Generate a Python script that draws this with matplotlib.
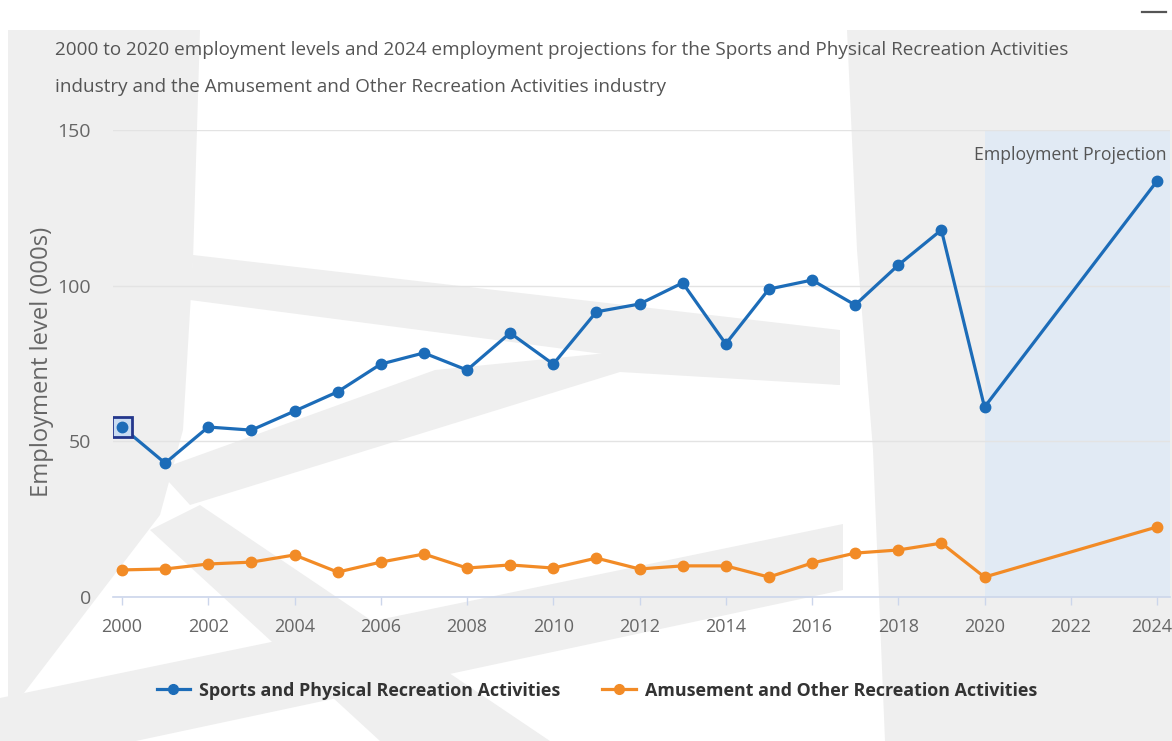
import matplotlib
matplotlib.use("Agg")
import matplotlib.pyplot as plt
import matplotlib.transforms as mtransforms
from matplotlib import font_manager
from matplotlib.patches import Polygon
from matplotlib.lines import Line2D

# ---- data -------------------------------------------------------------
years = [2000, 2001, 2002, 2003, 2004, 2005, 2006, 2007, 2008, 2009, 2010,
         2011, 2012, 2013, 2014, 2015, 2016, 2017, 2018, 2019, 2020, 2024]
sports = [54.6, 43.0, 54.6, 53.6, 59.7, 65.9, 74.8, 78.4, 72.9, 84.8, 74.8,
          91.6, 94.1, 100.9, 81.3, 98.9, 101.8, 93.8, 106.6, 117.9, 61.0, 133.6]
amusement = [8.7, 9.0, 10.6, 11.2, 13.5, 8.0, 11.2, 13.8, 9.3, 10.3, 9.3,
             12.5, 9.0, 10.0, 10.0, 6.4, 10.9, 14.1, 15.1, 17.3, 6.4, 22.5]
series_names = ["Sports and Physical Recreation Activities",
                "Amusement and Other Recreation Activities"]
x_ticks = list(range(2000, 2025, 2))
y_ticks = [0, 50, 100, 150]
projection_start = 2020
title_lines = [
    "2000 to 2020 employment levels and 2024 employment projections for the "
    "Sports and Physical Recreation Activities",
    "industry and the Amusement and Other Recreation Activities industry",
]
y_label = "Employment level (000s)"
band_label = "Employment Projection"

BLUE = "#1c6cb8"
ORANGE = "#f28b26"
GREY_TXT = "#666666"


def pick(families):
    for fam in families:
        try:
            font_manager.findfont(font_manager.FontProperties(family=fam),
                                  fallback_to_default=False)
            return fam
        except Exception:
            continue
    return "DejaVu Sans"


NARROW = pick(["Liberation Sans Narrow", "Open Sans"])
WIDE = pick(["Open Sans", "DejaVu Sans"])

W, H = 1172, 741
fig = plt.figure(figsize=(W / 100, H / 100), dpi=100)
fig.patch.set_facecolor("white")


def fx(px):
    return px / W


def fy(py):
    return 1 - py / H


# ---- faint backdrop shapes --------------------------------------------
shapes = [
    [(8, 30), (200, 30), (193, 260), (183, 430), (160, 515), (24, 693), (8, 700)],
    [(193, 255), (840, 330), (840, 385), (190, 300)],
    [(158, 470), (435, 370), (840, 330), (840, 385), (620, 372), (190, 505)],
    [(150, 530), (200, 505), (550, 741), (380, 741)],
    [(0, 698), (843, 524), (843, 590), (0, 770)],
    [(847, 30), (1172, 30), (1172, 741), (885, 741), (873, 450), (857, 250)],
]
for poly in shapes:
    fig.add_artist(Polygon([(fx(a), fy(b)) for a, b in poly], closed=True,
                           transform=fig.transFigure, facecolor="#efefef",
                           edgecolor="none", zorder=-10))

# small menu glyph at the top right
fig.add_artist(Line2D([fx(1142), fx(1166)], [fy(12), fy(12)],
                      transform=fig.transFigure, color="#555555", lw=1.6))

# ---- axes -------------------------------------------------------------
ax_left, ax_right, ax_top, ax_bottom = 113, 1170, 130, 597
ax = fig.add_axes([fx(ax_left), fy(ax_bottom), fx(ax_right - ax_left),
                   (ax_bottom - ax_top) / H])
ax.set_facecolor("none")

px_per_year = (1157 - 122) / 24.0
x_min = 2000 - (122 - ax_left) / px_per_year
x_max = 2000 + (ax_right - 122) / px_per_year
ax.set_xlim(x_min, x_max)
ax.set_ylim(0, 150)

ax.axvspan(projection_start, x_max, color="#dde9f6", alpha=0.75, lw=0, zorder=0)

for s in ["top", "right", "left"]:
    ax.spines[s].set_visible(False)
ax.spines["bottom"].set_color("#ccd6eb")
ax.spines["bottom"].set_linewidth(1.2)

ax.set_yticks(y_ticks)
ax.set_xticks(x_ticks)
ax.grid(axis="y", color="#e3e3e3", lw=1.0, zorder=0)
ax.tick_params(axis="y", length=0, pad=16, labelcolor=GREY_TXT, labelsize=14)
ax.tick_params(axis="x", length=6, width=1, color="#ccd6eb", pad=9,
               labelcolor=GREY_TXT, labelsize=13)
for lab in ax.get_xticklabels() + ax.get_yticklabels():
    lab.set_fontfamily(NARROW)
# keep the last year label inside the canvas
last = ax.get_xticklabels()[-1]
last.set_transform(last.get_transform() +
                   mtransforms.ScaledTranslation(-5 / 100, 0, fig.dpi_scale_trans))

ax.plot(years, sports, color=BLUE, lw=2.3, marker="o", ms=7.5,
        label=series_names[0], zorder=4, solid_joinstyle="round")
ax.plot(years, amusement, color=ORANGE, lw=2.3, marker="o", ms=7.5,
        label=series_names[1], zorder=4, solid_joinstyle="round")

# hovered point on the first sports value
ax.plot([years[0]], [sports[0]], marker="s", ms=15, mfc="#c9dcf2",
        mec="#24378c", mew=2.0, zorder=5, linestyle="none")
ax.plot([years[0]], [sports[0]], marker="o", ms=7.5, color=BLUE, zorder=6,
        linestyle="none")

band_txt = ax.text(x_max - 0.08, 150 - (155 - ax_top) / ((ax_bottom - ax_top) / 150),
                   band_label, ha="right", va="center", color="#555555",
                   fontsize=15, family=NARROW, zorder=6)

ylab = fig.text(fx(42), fy(362), y_label, rotation=90, ha="center",
                va="center", color=GREY_TXT, fontsize=14, family=WIDE)

# ---- title ------------------------------------------------------------
t1 = fig.text(fx(55), fy(50), title_lines[0], ha="left", va="center",
              color="#555555", fontsize=15, family=NARROW)
t2 = fig.text(fx(55), fy(87), title_lines[1], ha="left", va="center",
              color="#555555", fontsize=15, family=NARROW)

# ---- legend -----------------------------------------------------------
leg = fig.legend(loc="center", bbox_to_anchor=(fx(597), fy(691)), ncol=2,
                 frameon=False, handlelength=1.6, handletextpad=0.45,
                 columnspacing=2.0,
                 prop=font_manager.FontProperties(family=NARROW, weight="bold",
                                                  size=15))
for txt in leg.get_texts():
    txt.set_color("#333333")
for h in leg.legend_handles:
    h.set_markersize(7)

# ---- size text to its measured width ----------------------------------
renderer = fig.canvas.get_renderer()


def fit_width(text, target, vertical=False):
    for _ in range(2):
        bb = text.get_window_extent(renderer)
        cur = bb.height if vertical else bb.width
        text.set_fontsize(text.get_fontsize() * target / cur)


fit_width(t1, 1008)
t2.set_fontsize(t1.get_fontsize())
fit_width(band_txt, 192)
fit_width(ylab, 269, vertical=True)
for txt in leg.get_texts():
    fit_width(txt, 362)
    break
for txt in leg.get_texts()[1:]:
    txt.set_fontsize(leg.get_texts()[0].get_fontsize())

fig.savefig("out.png", dpi=100, facecolor="white")
